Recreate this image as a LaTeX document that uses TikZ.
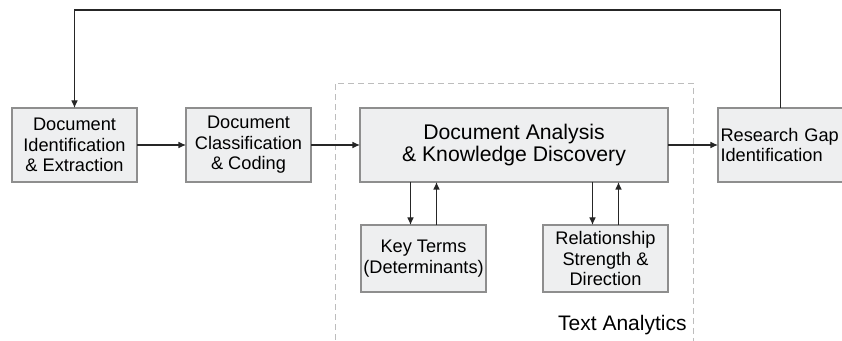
\documentclass[tikz,border=0pt]{standalone}
\usepackage{fontspec}
\setmainfont{Liberation Sans}
\usetikzlibrary{arrows.meta, positioning}
\definecolor{boxfill}{HTML}{EEEFF0}
\definecolor{boxline}{HTML}{8E8E8E}
\definecolor{zoneline}{HTML}{BDBDBD}
\tikzset{
  stepbox/.style={
    draw=boxline, fill=boxfill, semithick,
    minimum width=62.5pt, minimum height=37pt, inner sep=0pt, outer sep=0pt,
    font=\fontsize{9.1}{10.3}\selectfont, align=center
  },
  bigbox/.style={
    stepbox, minimum width=154pt,
    font=\fontsize{10.6}{11}\selectfont
  },
  farrow/.style={-{Latex[length=3.8pt, width=3.4pt]}, semithick, color=black!85}
}
\begin{document}
\begin{tikzpicture}
    \clip (0,0) rectangle (421pt,-170.5pt);

    \node[stepbox] (ident) at (37.25pt,-72.5pt) {Document\\Identification\\\& Extraction};
    \node[stepbox, right=24.5pt of ident] (classif) {Document\\Classification\\\& Coding};
    \node[bigbox, right=24.5pt of classif] (analysis) {Document Analysis\\\& Knowledge Discovery};
    \node[stepbox, right=25pt of analysis, align=left, text width=60pt, inner sep=1.25pt] (gap) {Research Gap\\Identification};

    \node[stepbox, minimum height=33.5pt, below=21.5pt of analysis.south west, anchor=north west, xshift=0.5pt] (terms) {Key Terms\\(Determinants)};
    \node[stepbox, minimum height=33.5pt, below=21.5pt of analysis.south east, anchor=north east] (strength) {Relationship\\Strength \&\\Direction};

    \draw[zoneline, thin, dash pattern=on 3pt off 2pt] (167.5pt,-180pt) -- (167.5pt,-41.5pt) -- (346.5pt,-41.5pt) -- (346.5pt,-180pt);
    \node[anchor=east, font=\fontsize{10.5}{12}\selectfont, inner sep=0pt] (zone) at (343.5pt,-162.5pt) {Text Analytics};

    \draw[farrow] (ident) -- (classif);
    \draw[farrow] (classif) -- (analysis);
    \draw[farrow] (analysis) -- (gap);
    \draw[farrow] (gap.north) -- ++(0,49pt) -| (ident.north);

    \draw[farrow] ([xshift=-6.5pt]terms.north |- analysis.south) -- ([xshift=-6.5pt]terms.north);
    \draw[farrow] ([xshift=6.5pt]terms.north) -- ([xshift=6.5pt]terms.north |- analysis.south);
    \draw[farrow] ([xshift=-6.5pt]strength.north |- analysis.south) -- ([xshift=-6.5pt]strength.north);
    \draw[farrow] ([xshift=6.5pt]strength.north) -- ([xshift=6.5pt]strength.north |- analysis.south);
\end{tikzpicture}
\end{document}
